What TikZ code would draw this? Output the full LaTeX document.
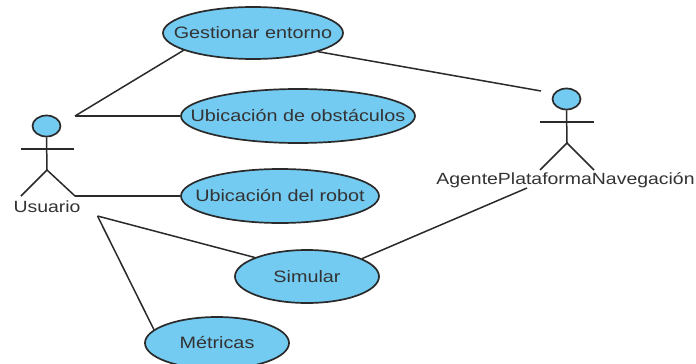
\documentclass[tikz,border=0pt]{standalone}
\usepackage{fontspec}
\setmainfont[FakeStretch=1.2]{Liberation Sans}
\usetikzlibrary{shapes.geometric}
\definecolor{ucfill}{HTML}{74CBF2}
\definecolor{ucline}{HTML}{2A2A2A}
\definecolor{uctext}{HTML}{333333}
\newcommand{\uctxt}[1]{\makebox[0pt][c]{#1}}
\tikzset{
  usecase/.style={ellipse,draw=ucline,fill=ucfill,line width=1.7pt,inner sep=0pt,font=\fontsize{16.5}{18}\selectfont,text=uctext},
  head/.style={ellipse,draw=ucline,fill=ucfill,line width=1.7pt,inner sep=0pt,minimum width=28pt,minimum height=21pt},
  limb/.style={draw=ucline,line width=1.5pt},
  assoc/.style={draw=ucline,line width=1.5pt},
  actorlabel/.style={inner sep=0pt,font=\fontsize{16.2}{18}\selectfont,text=uctext}
}
\begin{document}
\begin{tikzpicture}[x=1pt,y=-1pt]
\useasboundingbox (0,0) rectangle (696,364);
\fill[white] (0,0) rectangle (696,364);
\begin{scope}
\clip (0,0) rectangle (696,364);
\node[usecase,minimum width=180pt,minimum height=52pt] (ges) at (253,33) {\uctxt{Gestionar entorno}};
\node[usecase,minimum width=234pt,minimum height=54pt] (obs) at (298,116) {\uctxt{Ubicación de obstáculos}};
\node[usecase,minimum width=198pt,minimum height=54pt] (rob) at (280,196) {\uctxt{Ubicación del robot}};
\node[usecase,minimum width=144pt,minimum height=53pt] (sim) at (307,276.5) {\uctxt{Simular}};
\node[usecase,minimum width=144pt,minimum height=52pt] (met) at (217,343) {\uctxt{Métricas}};
\end{scope}
% Usuario actor
\node[head] (h1) at (46.5,126) {};
\coordinate (hip1) at (47,170);
\coordinate (al1) at (21,149);
\coordinate (ar1) at (74,149);
\coordinate (fl1) at (21,196);
\coordinate (fr1) at (75,196);
\draw[limb] (h1.south) -- (hip1);
\draw[limb] (al1) -- (ar1);
\draw[limb] (fl1) -- (hip1) -- (fr1);
\node[actorlabel] (l1) at (47,207) {Usuario};
% Agente actor
\node[head] (h2) at (566.5,99) {};
\coordinate (hip2) at (567,143);
\coordinate (al2) at (540,122);
\coordinate (ar2) at (594,122);
\coordinate (fl2) at (540,170);
\coordinate (fr2) at (594,170);
\draw[limb] (h2.south) -- (hip2);
\draw[limb] (al2) -- (ar2);
\draw[limb] (fl2) -- (hip2) -- (fr2);
\node[actorlabel] (l2) at (565.5,180) {AgentePlataformaNavegación};
% free ends
\coordinate (u1) at (75,116);
\coordinate (u2) at (97.5,216);
\coordinate (a1) at (541,91);
\coordinate (a2) at (527,188);
% connectors
\draw[assoc] (u1) -- (ges.194);
\draw[assoc] (u1) -- (obs.west);
\draw[assoc] (fr1) -- (rob.west);
\draw[assoc] (u2) -- (sim.160);
\draw[assoc] (u2) -- (met.168);
\draw[assoc] (ges.344) -- (a1);
\draw[assoc] (sim.18) -- (a2);
\end{tikzpicture}
\end{document}
